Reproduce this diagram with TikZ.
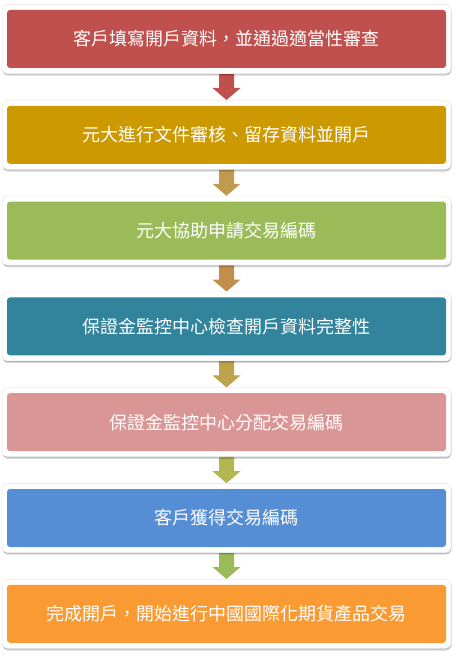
\documentclass[tikz,border=0pt]{standalone}
\usepackage{fontspec}
\setmainfont{Noto Sans CJK TC}
\usetikzlibrary{shadows,backgrounds,calc}
\definecolor{cA}{HTML}{C0504D}
\definecolor{cB}{HTML}{CC9900}
\definecolor{cC}{HTML}{9BBB59}
\definecolor{cD}{HTML}{31849B}
\definecolor{cE}{HTML}{D99694}
\definecolor{cF}{HTML}{558ED5}
\definecolor{cG}{HTML}{F99A32}
\definecolor{aA}{HTML}{C0504D}
\definecolor{aB}{HTML}{C19A4F}
\definecolor{aC}{HTML}{C38E4C}
\definecolor{aD}{HTML}{BEA24C}
\definecolor{aE}{HTML}{B4B650}
\definecolor{aF}{HTML}{9BBB59}
\tikzset{
  frame/.style={rectangle, rounded corners=5pt, fill=white, draw=black!8, line width=0.6pt,
    minimum width=449pt, minimum height=69pt, inner sep=0pt,
    drop shadow={shadow xshift=0.5pt, shadow yshift=-2.2pt, opacity=0.16, fill=black},
    drop shadow={shadow xshift=0.3pt, shadow yshift=-1pt, opacity=0.18, fill=black}},
  stepbox/.style={rectangle, rounded corners=3pt, minimum width=439pt, minimum height=58pt, inner sep=0pt,
    text=white, font=\fontsize{18pt}{20pt}\selectfont},
}
\newcommand{\flowarrow}[3]{%
  \fill[#3] ($(#1.south)+(-7.5pt,4pt)$) -- ($(#2.north)+(-7.5pt,12pt)$) -- ($(#2.north)+(-14pt,12pt)$)
    -- (#2.north) -- ($(#2.north)+(14pt,12pt)$) -- ($(#2.north)+(7.5pt,12pt)$) -- ($(#1.south)+(7.5pt,4pt)$) -- cycle;}
\begin{document}
\begin{tikzpicture}[x=1pt,y=1pt]
\useasboundingbox (0,0) rectangle (456,-658);
\foreach \i/\c/\t in {1/cA/{客戶填寫開戶資料，並通過適當性審查},
                      2/cB/{元大進行文件審核、留存資料並開戶},
                      3/cC/{元大協助申請交易編碼},
                      4/cD/{保證金監控中心檢查開戶資料完整性},
                      5/cE/{保證金監控中心分配交易編碼},
                      6/cF/{客戶獲得交易編碼},
                      7/cG/{完成開戶，開始進行中國國際化期貨產品交易}}{
  \node[frame] (o\i) at (226.5,{-39-95.8*(\i-1)}) {};
  \node[stepbox, fill=\c] (b\i) at (226.5,{-39-95.8*(\i-1)}) {\t};
}
\begin{scope}[on background layer]
\flowarrow{o1}{o2}{aA}
\flowarrow{o2}{o3}{aB}
\flowarrow{o3}{o4}{aC}
\flowarrow{o4}{o5}{aD}
\flowarrow{o5}{o6}{aE}
\flowarrow{o6}{o7}{aF}
\end{scope}
\end{tikzpicture}
\end{document}
